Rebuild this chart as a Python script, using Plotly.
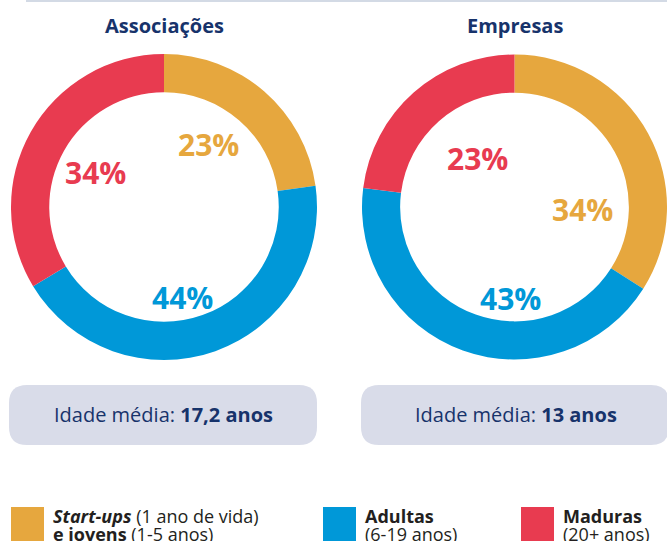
import plotly.graph_objects as go

# ---- data ----
groups = ["Associações", "Empresas"]
categories = ["Start-ups e jovens", "Adultas", "Maduras"]
values_assoc = [23, 44, 34]
values_emp = [34, 43, 23]
idade_media = ["17,2 anos", "13 anos"]
legend_line1 = ["<b><i>Start-ups</i></b> (1 ano de vida)", "<b>Adultas</b>", "<b>Maduras</b>"]
legend_line2 = ["<b>e jovens</b> (1-5 anos)", "(6-19 anos)", "(20+ anos)"]

# ---- styles ----
colors = ["#E6A73E", "#0098D8", "#E83B50"]
navy = "#17336B"
box_fill = "#D9DCE9"
W, H = 667, 541
FONT = "Open Sans"

fig = go.Figure()

# invisible trace to establish a pixel-like coordinate system
fig.add_trace(go.Scatter(x=[0, W], y=[0, H], mode="markers", marker=dict(opacity=0),
                         showlegend=False, hoverinfo="skip"))

domains = [
    dict(x=[11 / W, 317 / W], y=[181 / H, 487 / H]),
    dict(x=[362 / W, 1.0], y=[181 / H, 487 / H]),
]
all_values = [values_assoc, values_emp]
for g, vals, dom in zip(groups, all_values, domains):
    fig.add_trace(go.Pie(
        labels=categories, values=vals, name=g, domain=dom,
        hole=0.75, sort=False, direction="clockwise", rotation=0,
        marker=dict(colors=colors, line=dict(width=0)),
        textinfo="none", hoverinfo="label+value", showlegend=False,
    ))

# percentage label positions (pixels) per group, per category
label_pos = [
    [(208, 144), (182, 297), (95, 172)],
    [(582, 209), (510, 298), (477, 158)],
]
title_x = [164, 515]
annotations = []
for gi, g in enumerate(groups):
    annotations.append(dict(x=title_x[gi], y=25, text=f"<b>{g}</b>", showarrow=False,
                            xanchor="center", yanchor="middle",
                            font=dict(family=FONT, size=20, color=navy)))
    for ci, v in enumerate(all_values[gi]):
        x, y = label_pos[gi][ci]
        annotations.append(dict(x=x, y=y, text=f"<b>{v}%</b>", showarrow=False,
                                xanchor="center", yanchor="middle",
                                font=dict(family=FONT, size=30, color=colors[ci])))

# average-age boxes
shapes = []
boxes = [(9, 317, 385, 445), (361, 669, 385, 445)]
r = 18
for (x0, x1, y0, y1) in boxes:
    path = (f"M {x0 + r},{y0} L {x1 - r},{y0} Q {x1},{y0} {x1},{y0 + r} "
            f"L {x1},{y1 - r} Q {x1},{y1} {x1 - r},{y1} L {x0 + r},{y1} "
            f"Q {x0},{y1} {x0},{y1 - r} L {x0},{y0 + r} Q {x0},{y0} {x0 + r},{y0} Z")
    shapes.append(dict(type="path", xref="x", yref="y", path=path,
                       fillcolor=box_fill, line=dict(width=0), layer="below"))
box_text_x = [163, 516]
for gi in range(len(groups)):
    annotations.append(dict(x=box_text_x[gi], y=414,
                            text=f"Idade média: <b>{idade_media[gi]}</b>",
                            showarrow=False, xanchor="center", yanchor="middle",
                            font=dict(family=FONT, size=20, color=navy)))

# top rule
shapes.append(dict(type="line", xref="x", yref="y", x0=26, x1=W, y0=1, y1=1,
                   line=dict(color="#C5CEDD", width=1.5)))

# custom legend
sq_x = [11, 323, 521]
txt_x = [51, 363, 561]
for ci in range(len(categories)):
    shapes.append(dict(type="rect", xref="x", yref="y", x0=sq_x[ci], x1=sq_x[ci] + 33,
                       y0=507, y1=541, fillcolor=colors[ci], line=dict(width=0)))
    annotations.append(dict(x=txt_x[ci], y=516, text=legend_line1[ci], showarrow=False,
                            xanchor="left", yanchor="middle",
                            font=dict(family=FONT, size=18, color="#231F20")))
    annotations.append(dict(x=txt_x[ci], y=534, text=legend_line2[ci], showarrow=False,
                            xanchor="left", yanchor="middle",
                            font=dict(family=FONT, size=18, color="#231F20")))

fig.update_layout(
    width=W, height=H,
    margin=dict(l=0, r=0, t=0, b=0),
    paper_bgcolor="white", plot_bgcolor="rgba(0,0,0,0)",
    xaxis=dict(range=[0, W], visible=False, fixedrange=True),
    yaxis=dict(range=[H, 0], visible=False, fixedrange=True),
    shapes=shapes, annotations=annotations,
    showlegend=False,
)

fig.write_html("out.html", config=dict(displayModeBar=False),
               post_script="document.body.style.margin='0';document.body.style.overflow='hidden';")
